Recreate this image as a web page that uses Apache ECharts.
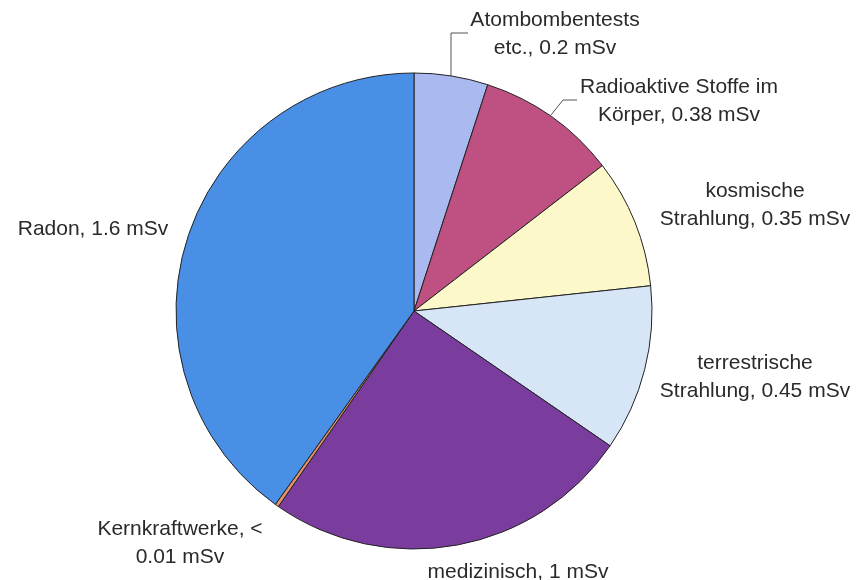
<!DOCTYPE html>
<html>
<head>
<meta charset="utf-8">
<script src="https://cdn.jsdelivr.net/npm/echarts@6/dist/echarts.min.js"></script>
<style>
  html, body { margin: 0; padding: 0; background: #fff; }
  #chart { width: 868px; height: 580px; }
</style>
</head>
<body>
<div id="chart"></div>
<script>
// Strahlenbelastung pro Jahr (mSv)
var names = ['Atombombentests', 'Radioaktive Stoffe', 'kosmische Strahlung', 'terrestrische Strahlung', 'medizinisch', 'Kernkraftwerke', 'Radon'];
var values = [0.2, 0.38, 0.35, 0.45, 1, 0.01, 1.6];
var labelTexts = [
  'Atombombentests\netc., 0.2 mSv',
  'Radioaktive Stoffe im\nKörper, 0.38 mSv',
  'kosmische\nStrahlung, 0.35 mSv',
  'terrestrische\nStrahlung, 0.45 mSv',
  'medizinisch, 1 mSv',
  'Kernkraftwerke, <\n0.01 mSv',
  'Radon, 1.6 mSv'
];
var colors = ['#aab9ef', '#bf5182', '#fcf8c9', '#d6e6f7', '#7a3d9e', '#e89068', '#4a8fe6'];

// wo die Beschriftungen stehen (Mitte des Textblocks)
var labelPos = [
  [555, 34], [679, 101], [755, 205], [755, 377], [518, 572], [180, 543], [93, 229]
];
// Führungslinien (nur die beiden oberen)
var leaderLines = {
  0: [[451, 76], [451, 33], [468, 33]],
  1: [[551, 115], [563, 100], [577, 100]]
};

var chart = echarts.init(document.getElementById('chart'));

var option = {
  animation: false,
  series: [{
    type: 'pie',
    center: [414, 311],
    radius: 238,
    startAngle: 90,
    clockwise: true,
    avoidLabelOverlap: false,
    itemStyle: { borderColor: '#222', borderWidth: 1 },
    label: {
      show: true,
      position: 'outside',
      color: '#2a2a2a',
      fontFamily: 'Liberation Sans, Arial, sans-serif',
      fontSize: 21,
      lineHeight: 28,
      align: 'center',
      formatter: function (p) { return labelTexts[p.dataIndex]; }
    },
    labelLine: { show: false },
    labelLayout: function (p) {
      var pos = labelPos[p.dataIndex];
      var res = { x: pos[0], y: pos[1], align: 'center', verticalAlign: 'middle', moveOverlap: null };
      if (leaderLines[p.dataIndex]) res.labelLinePoints = leaderLines[p.dataIndex];
      return res;
    },
    data: names.map(function (n, i) {
      var d = { name: n, value: values[i], itemStyle: { color: colors[i] } };
      if (leaderLines[i]) {
        d.labelLine = { show: true, length: 30, length2: 12, lineStyle: { color: '#555', width: 1 } };
      }
      return d;
    })
  }]
};

chart.setOption(option);
</script>
</body>
</html>
